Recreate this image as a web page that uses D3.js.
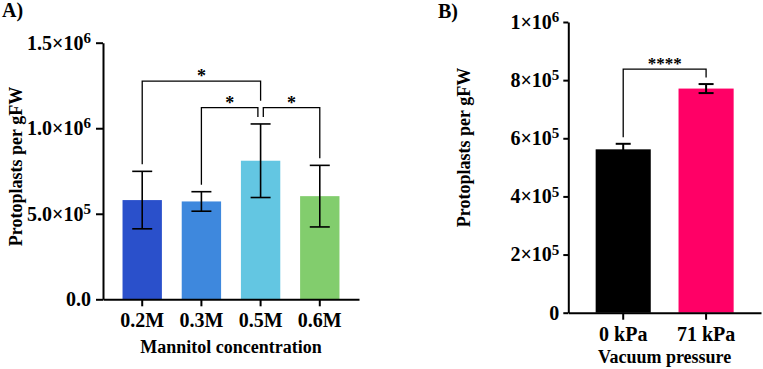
<!DOCTYPE html>
<html>
<head>
<meta charset="utf-8">
<script src="https://cdn.jsdelivr.net/npm/d3@7"></script>
<style>
    body { margin: 0; background: #fff; }
    svg { display: block; }
    text { font-family: "Liberation Serif", "Times New Roman", serif; font-weight: bold; fill: #000; }
</style>
</head>
<body>
<div id="chart"></div>
<script>

// ---- data ----

// A) mannitol concentration
var mannitolCats = ["0.2M", "0.3M", "0.5M", "0.6M"];
var mannitolMeans = [580000, 572000, 810000, 603000];
var mannitolSD = [168000, 57000, 215000, 180000];
var mannitolColors = ["#2a50cb", "#3e88dd", "#63c6e2", "#82cd6d"];
var mannitolTicks = [0, 500000, 1000000, 1500000];
var mannitolTickLabels = [["0.0", ""], ["5.0\u00d710", "5"], ["1.0\u00d710", "6"], ["1.5\u00d710", "6"]];
var mannitolSigFrom = [0, 1, 2];
var mannitolSigTo = [2, 2, 3];
var mannitolSigLevel = [1275000, 1120000, 1120000];
var mannitolSigLabel = ["*", "*", "*"];

// B) vacuum pressure
var vacuumCats = ["0 kPa", "71 kPa"];
var vacuumMeans = [562000, 771000];
var vacuumSD = [19000, 15500];
var vacuumColors = ["#000000", "#ff0066"];
var vacuumTicks = [0, 200000, 400000, 600000, 800000, 1000000];
var vacuumTickLabels = [["0", ""], ["2\u00d710", "5"], ["4\u00d710", "5"], ["6\u00d710", "5"], ["8\u00d710", "5"], ["1\u00d710", "6"]];
var vacuumSigFrom = [0];
var vacuumSigTo = [1];
var vacuumSigLevel = [838000];
var vacuumSigLabel = ["****"];


var svg = d3.select("#chart").append("svg")
    .attr("width", 763)
    .attr("height", 369);


/*
 * One bar panel with error bars, axes and significance brackets
 */
function drawPanel(cfg) {
    var g = svg.append("g");

    var y = d3.scaleLinear()
        .domain([0, cfg.yMax])
        .range([cfg.bottom, cfg.top]);

    var x = d3.scaleBand()
        .domain(cfg.cats)
        .range([cfg.left, cfg.right])
        .paddingInner(0.335)
        .paddingOuter(0.33);

    // bars
    g.selectAll("rect.bar")
        .data(cfg.cats)
        .enter()
        .append("rect")
        .attr("class", "bar")
        .attr("x", function(d) { return x(d); })
        .attr("y", function(d, i) { return y(cfg.means[i]); })
        .attr("width", x.bandwidth())
        .attr("height", function(d, i) { return cfg.bottom - y(cfg.means[i]); })
        .attr("fill", function(d, i) { return cfg.colors[i]; });

    // error bars (mean +/- sd)
    var err = g.selectAll("g.err")
        .data(cfg.cats)
        .enter()
        .append("g")
        .attr("class", "err")
        .attr("stroke", "#000")
        .attr("stroke-width", cfg.errWidth);

    err.append("line")
        .attr("x1", function(d) { return x(d) + x.bandwidth() / 2; })
        .attr("x2", function(d) { return x(d) + x.bandwidth() / 2; })
        .attr("y1", function(d, i) { return y(cfg.means[i] - cfg.sd[i]); })
        .attr("y2", function(d, i) { return y(cfg.means[i] + cfg.sd[i]); });

    [1, -1].forEach(function(sign) {
        err.append("line")
            .attr("x1", function(d) { return x(d) + x.bandwidth() / 2 - cfg.capHalf; })
            .attr("x2", function(d) { return x(d) + x.bandwidth() / 2 + cfg.capHalf; })
            .attr("y1", function(d, i) { return y(cfg.means[i] + sign * cfg.sd[i]); })
            .attr("y2", function(d, i) { return y(cfg.means[i] + sign * cfg.sd[i]); });
    });

    // axes
    var yAxis = d3.axisLeft(y)
        .tickValues(cfg.ticks)
        .tickSize(cfg.tickLen)
        .tickSizeOuter(0)
        .tickPadding(cfg.yPad)
        .tickFormat("");

    var xAxis = d3.axisBottom(x)
        .tickSize(7)
        .tickSizeOuter(0)
        .tickPadding(7);

    var yG = g.append("g")
        .attr("transform", "translate(" + cfg.left + ",0)")
        .call(yAxis);

    var xG = g.append("g")
        .attr("transform", "translate(0," + cfg.bottom + ")")
        .call(xAxis);

    [yG, xG].forEach(function(a) {
        a.attr("font-family", null).attr("font-size", null);
        a.select(".domain").attr("stroke", "#000").attr("stroke-width", 2);
        a.selectAll(".tick line").attr("stroke", "#000").attr("stroke-width", 2);
    });

    xG.selectAll(".tick text")
        .attr("font-size", 20)
        .attr("fill", "#000");

    // y tick labels with superscript exponents
    yG.selectAll(".tick text")
        .attr("font-size", 20)
        .attr("fill", "#000")
        .each(function(d) {
            var lab = cfg.tickLabels[cfg.ticks.indexOf(d)];
            var t = d3.select(this);
            t.append("tspan").text(lab[0]);
            if (lab[1]) {
                t.append("tspan")
                    .attr("font-size", 15)
                    .attr("dy", "-0.45em")
                    .text(lab[1]);
            }
        });

    // significance brackets
    function errTop(i) { return cfg.means[i] + cfg.sd[i]; }

    cfg.sigFrom.forEach(function(a, k) {
        var b = cfg.sigTo[k];
        var level = cfg.sigLevel[k];

        // leg stops a little above whatever sits below it (error bar or lower bracket)
        function legEnd(i) {
            var obst = errTop(i);
            cfg.sigFrom.forEach(function(a2, k2) {
                var b2 = cfg.sigTo[k2];
                if (k2 != k && cfg.sigLevel[k2] < level && a2 <= i && b2 >= i) {
                    obst = Math.max(obst, cfg.sigLevel[k2]);
                }
            });
            return y(obst) - cfg.sigGap;
        }

        // two brackets on one level sharing a bar get nudged apart
        function legX(i, other) {
            var cx = x(cfg.cats[i]) + x.bandwidth() / 2;
            var shared = false;
            cfg.sigFrom.forEach(function(a2, k2) {
                var b2 = cfg.sigTo[k2];
                if (k2 != k && cfg.sigLevel[k2] == level && (a2 == i || b2 == i)) shared = true;
            });
            if (shared) cx += (other < i ? -2.7 : 2.7);
            return cx;
        }

        var xa = legX(a, b), xb = legX(b, a), yl = y(level);

        g.append("path")
            .attr("d", "M" + xa + "," + legEnd(a) + "V" + yl + "H" + xb + "V" + legEnd(b))
            .attr("fill", "none")
            .attr("stroke", "#000")
            .attr("stroke-width", 1.3);

        g.append("text")
            .attr("x", (xa + xb) / 2)
            .attr("y", yl + cfg.starDy)
            .attr("text-anchor", "middle")
            .attr("font-size", cfg.starSize)
            .text(cfg.sigLabel[k]);
    });

    // titles
    g.append("text")
        .attr("transform", "translate(" + cfg.yTitleX + "," + cfg.yTitleY + ") rotate(-90)")
        .attr("text-anchor", "middle")
        .attr("font-size", 18)
        .text("Protoplasts per gFW");

    g.append("text")
        .attr("x", (cfg.left + cfg.right) / 2)
        .attr("y", cfg.xTitleY)
        .attr("text-anchor", "middle")
        .attr("font-size", 18)
        .text(cfg.xTitle);

    g.append("text")
        .attr("x", cfg.panelX)
        .attr("y", cfg.panelY)
        .attr("font-size", 20)
        .text(cfg.panel);
}


drawPanel({
    cats: mannitolCats, means: mannitolMeans, sd: mannitolSD, colors: mannitolColors,
    ticks: mannitolTicks, tickLabels: mannitolTickLabels,
    sigFrom: mannitolSigFrom, sigTo: mannitolSigTo, sigLevel: mannitolSigLevel, sigLabel: mannitolSigLabel,
    yMax: 1500000, top: 42.7, bottom: 299.3, left: 103, right: 359,
    tickLen: 7, yPad: 5, errWidth: 1.6, capHalf: 10, sigGap: 7, starDy: 1, starSize: 18,
    yTitleX: 22, yTitleY: 166.5, xTitle: "Mannitol concentration", xTitleY: 353,
    panel: "A)", panelX: 2, panelY: 17
});

drawPanel({
    cats: vacuumCats, means: vacuumMeans, sd: vacuumSD, colors: vacuumColors,
    ticks: vacuumTicks, tickLabels: vacuumTickLabels,
    sigFrom: vacuumSigFrom, sigTo: vacuumSigTo, sigLevel: vacuumSigLevel, sigLabel: vacuumSigLabel,
    yMax: 1000000, top: 22, bottom: 312.7, left: 568.3, right: 761,
    tickLen: 5, yPad: 4, errWidth: 2, capHalf: 7.5, sigGap: 6.5, starDy: 0, starSize: 17,
    yTitleX: 469.5, yTitleY: 147.5, xTitle: "Vacuum pressure", xTitleY: 363,
    panel: "B)", panelX: 438, panelY: 18
});

</script>
</body>
</html>
